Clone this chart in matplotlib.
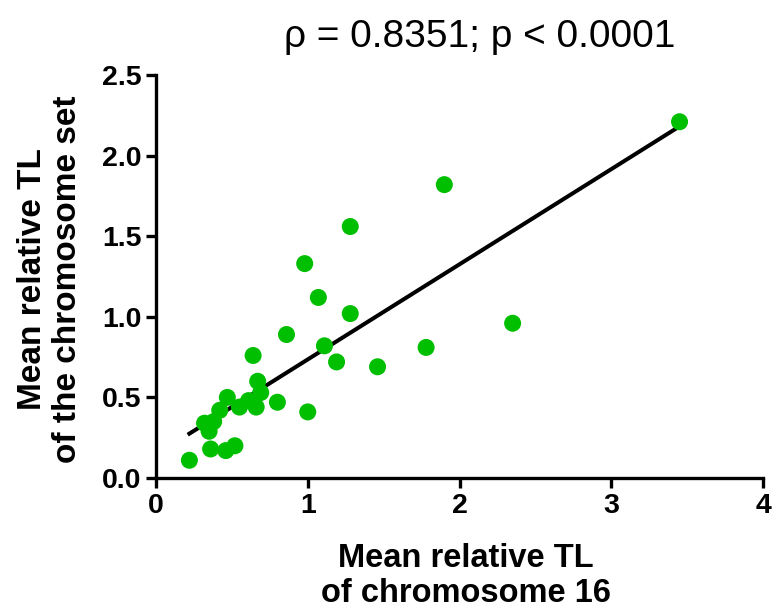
import numpy as np
import matplotlib
matplotlib.use('Agg')
import matplotlib.pyplot as plt

# mean relative TL: chromosome 16 (x) vs whole chromosome set (y)
chr16 = [0.22, 0.36, 0.46, 0.52, 0.32, 0.35, 0.38, 0.42, 0.47, 0.55,
         0.61, 0.66, 0.69, 0.67, 0.64, 0.80, 1.00, 1.19, 1.46, 0.86,
         1.11, 1.78, 1.28, 1.07, 0.98, 1.28, 1.90, 3.45, 2.35]
chr_set = [0.11, 0.18, 0.17, 0.20, 0.34, 0.29, 0.35, 0.42, 0.50, 0.44,
           0.48, 0.44, 0.53, 0.60, 0.76, 0.47, 0.41, 0.72, 0.69, 0.89,
           0.82, 0.81, 1.02, 1.12, 1.33, 1.56, 1.82, 2.21, 0.96]

x_ticks = [0, 1, 2, 3, 4]
y_ticks = [0.0, 0.5, 1.0, 1.5, 2.0, 2.5]

plt.rcParams['font.family'] = ['Liberation Sans', 'DejaVu Sans']

# axes box in pixels of the 773x610 picture
L, R, T, B = 156, 763, 75, 478
W, H = 773, 610

fig = plt.figure(figsize=(7.73, 6.10), dpi=100)
ax = fig.add_axes([L / W, 1 - B / H, (R - L) / W, (B - T) / H])

x = np.array(chr16)
y = np.array(chr_set)

# linear fit over the data range
slope, intercept = np.polyfit(x, y, 1)
xf = np.array([x.min(), x.max()])
ax.plot(xf, slope * xf + intercept, color='black', lw=2.9, zorder=2)

ax.scatter(x, y, s=150, color='#00BF00', edgecolors='none', zorder=3,
           clip_on=False)

ax.set_xlim(0, 4)
ax.set_ylim(0, 2.5)
ax.set_xticks(x_ticks)
ax.set_yticks(y_ticks)
ax.set_xticklabels([str(t) for t in x_ticks])
ax.set_yticklabels([f'{t:.1f}' for t in y_ticks])

for side in ['top', 'right']:
    ax.spines[side].set_visible(False)
for side in ['left', 'bottom']:
    ax.spines[side].set_linewidth(2.4)
ax.tick_params(width=2.4, length=7.5, labelsize=20.5, pad=3)
for lab in ax.get_xticklabels() + ax.get_yticklabels():
    lab.set_fontweight('bold')

ax.set_xlabel('Mean relative TL\nof chromosome 16', fontsize=23.5,
              fontweight='bold', linespacing=1.2)
ax.xaxis.set_label_coords((466 - L) / (R - L), -(576 - B) / (B - T))
ax.xaxis.label.set_va('center')

ax.set_ylabel('Mean relative TL\nof the chromosome set', fontsize=24,
              fontweight='bold', linespacing=1.2)
ax.yaxis.set_label_coords((50 - L) / (R - L), (B - 279) / (B - T))
ax.yaxis.label.set_va('center')
ax.yaxis.label.set_ha('center')

fig.text(480 / W, 1 - 37 / H, 'ρ = 0.8351; p < 0.0001', fontsize=28,
         ha='center', va='center')

fig.savefig('out.png', dpi=100)
